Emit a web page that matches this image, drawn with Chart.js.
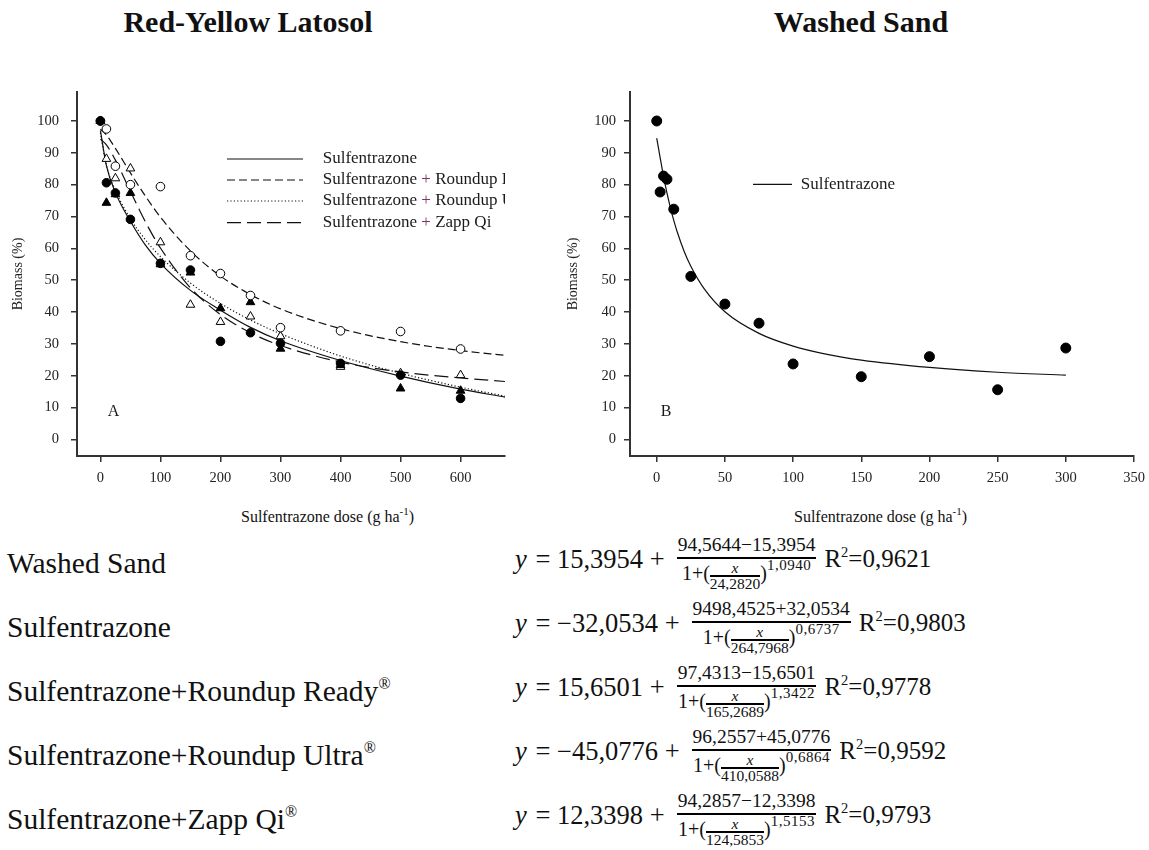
<!DOCTYPE html>
<html>
<head>
<meta charset="utf-8">
<script src="https://cdn.jsdelivr.net/npm/chart.js@4.4.0/dist/chart.umd.min.js"></script>
<style>
  body { margin:0; width:1149px; height:850px; background:#fff; position:relative; overflow:hidden;
         font-family:'Liberation Serif','Times New Roman',serif; color:#111; }
  .abs { position:absolute; white-space:nowrap; }
  .ptitle { font-weight:bold; font-size:30px; line-height:34px; top:5px; transform:translateX(-50%); }
  .xtitle { font-size:16px; line-height:18px; }
  .xtitle .sp { font-size:11px; position:relative; top:-7px; }
  .lab { font-size:29.5px; line-height:34px; left:7px; }
  .lab .reg { font-size:16px; position:relative; top:-12px; }
  .eq { position:absolute; left:515px; height:50px; display:flex; align-items:center; white-space:nowrap; }
  .lhs { font-size:26.5px; }
  .lhs i { margin-right:2px; }
  .frac { display:inline-flex; flex-direction:column; align-items:center; margin:0 8px 0 12px; }
  .num { font-size:19.5px; line-height:24px; height:24px; border-bottom:2px solid #000; padding:0 1px; }
  .den { font-size:20px; line-height:24px; height:24px; display:flex; align-items:center; padding-top:2px; }
  .ifrac { display:inline-flex; flex-direction:column; align-items:center; font-size:15.5px; line-height:14px; margin-top:5px; }
  .ix { font-style:italic; border-bottom:2px solid #000; width:100%; text-align:center; }
  .exp { font-size:15px; position:relative; top:-8px; letter-spacing:0.5px; }
  .r2 { font-size:25px; }
  .r2 .s2 { font-size:14.5px; position:relative; top:-10px; }
  .chartbox { position:absolute; }
</style>
</head>
<body>

<div class="abs ptitle" style="left:248px">Red-Yellow Latosol</div>
<div class="abs ptitle" style="left:861px">Washed Sand</div>

<div class="chartbox" style="left:0px;top:84px;width:512px;height:410px"><canvas id="cA" width="512" height="410"></canvas></div>
<div class="chartbox" style="left:560px;top:84px;width:589px;height:410px"><canvas id="cB" width="589" height="410"></canvas></div>

<div class="abs xtitle" style="left:241px;top:508px">Sulfentrazone dose (g ha<span class="sp">-1</span>)</div>
<div class="abs xtitle" style="left:794px;top:508px">Sulfentrazone dose (g ha<span class="sp">-1</span>)</div>

<div id="eqs"></div>

<script>
// ---------- Panel A: Red-Yellow Latosol (observed points) ----------
const dosesA = [0, 10, 25, 50, 100, 150, 200, 250, 300, 400, 500, 600];
const sulfA   = [100, 80.6, 77.4, 69.1, 55.3, 53.2, 30.8, 33.5, 30.2, 23.9, 20.2, 12.9];   // filled circles
const rReadyA = [100, 97.5, 85.8, 80.0, 79.4, 57.7, 52.1, 45.2, 35.1, 34.1, 33.9, 28.4];   // open circles
const rUltraA = [100, 74.3, 77.0, 77.4, 55.0, 52.4, 41.2, 43.1, 28.5, 23.4, 16.0, 15.3];   // filled triangles
const zappA   = [100, 88.1, 82.0, 85.1, 61.9, 42.3, 36.9, 38.6, 32.4, 22.8, 20.8, 20.2];   // open triangles

// fitted curves
const curveXA      = [0, 10, 25, 50, 75, 100, 150, 200, 250, 300, 400, 500, 600, 674];
const curveSulfA   = [97, 86, 77.5, 68.5, 61, 55.3, 46.8, 40.6, 35.2, 31, 24.8, 19.9, 15.8, 13.3];
const curveReadyA  = [97.4, 95.6, 91.4, 83.7, 76.4, 69.8, 59.2, 51.3, 45.5, 41.0, 34.8, 30.7, 27.9, 26.4];
const curveUltraA  = [96.3, 86.0, 78.2, 69.3, 62.7, 57.4, 49.1, 42.7, 37.5, 33.2, 26.2, 20.8, 16.4, 13.6];
const curveZappA   = [94.3, 92.5, 87.7, 77.9, 68.3, 60.1, 47.6, 39.2, 33.5, 29.5, 24.3, 21.2, 19.3, 18.2];

const legendA = ['Sulfentrazone', 'Sulfentrazone + Roundup Ready', 'Sulfentrazone + Roundup Ultra', 'Sulfentrazone + Zapp Qi'];

// ---------- Panel B: Washed Sand ----------
const dosesB = [0, 2.5, 5, 7.5, 12.5, 25, 50, 75, 100, 150, 200, 250, 300];
const sulfB  = [100, 77.7, 82.7, 81.7, 72.3, 51.2, 42.5, 36.5, 23.7, 19.7, 26.0, 15.6, 28.7];
const curveXB = [0, 2.5, 5, 7.5, 10, 12.5, 15, 20, 25, 35, 50, 75, 100, 125, 150, 200, 250, 300];
const curveYB = [94.6, 88.5, 82.6, 77.4, 72.8, 68.8, 65.2, 59.2, 54.4, 47.2, 40.1, 33.3, 29.3, 26.7, 24.9, 22.6, 21.1, 20.2];
const legendB = ['Sulfentrazone'];

// axis tick settings
const xTicksA = {min: -39, max: 674, step: 100};
const xTicksB = {min: -19.6, max: 350, step: 50};
const yTicks  = {min: -5.2, max: 109.1, step: 10};

// ---------- equations ----------
const eqLabels = ['Washed Sand', 'Sulfentrazone', 'Sulfentrazone+Roundup Ready', 'Sulfentrazone+Roundup Ultra', 'Sulfentrazone+Zapp Qi'];
const eqReg    = [false, false, true, true, true];
const eqConst  = ['15,3954', '−32,0534', '15,6501', '−45,0776', '12,3398'];
const eqNum    = ['94,5644−15,3954', '9498,4525+32,0534', '97,4313−15,6501', '96,2557+45,0776', '94,2857−12,3398'];
const eqScale  = ['24,2820', '264,7968', '165,2689', '410,0588', '124,5853'];
const eqExp    = ['1,0940', '0,6737', '1,3422', '0,6864', '1,5153'];
const eqR2     = ['0,9621', '0,9803', '0,9778', '0,9592', '0,9793'];

// ---------- build ----------
const FONT = "'Liberation Serif','Times New Roman',serif";
Chart.defaults.font.family = FONT;
Chart.defaults.color = '#222';

const pts = (xs, ys) => xs.map((x, i) => ({x, y: ys[i]}));

function axis(cfg, tickPad, widthFix, heightFix, title) {
  return {
    type: 'linear', min: cfg.min, max: cfg.max,
    ticks: {stepSize: cfg.step, includeBounds: false, padding: tickPad, font: {size: 14.5}, color: '#222', maxRotation: 0, autoSkip: false},
    grid: {display: true, drawOnChartArea: false, drawTicks: true, tickLength: 6, color: '#333', lineWidth: 1.5},
    border: {display: true, color: '#333', width: 2},
    title: title || {display: false},
    afterFit(s) {
      s.paddingTop = 0; s.paddingBottom = 0; s.paddingLeft = 0; s.paddingRight = 0;
      if (widthFix) s.width = widthFix;
      if (heightFix) s.height = heightFix;
    }
  };
}

function curve(xs, ys, dash) {
  return {data: pts(xs, ys), showLine: true, pointRadius: 0, borderColor: '#111', borderWidth: 1.2,
          borderDash: dash, cubicInterpolationMode: 'monotone', fill: false};
}
function marks(xs, ys, style, filled, r) {
  return {data: pts(xs, ys), showLine: false, pointStyle: style, pointRadius: r,
          pointBackgroundColor: filled ? '#000' : '#fff', pointBorderColor: '#000', pointBorderWidth: 1};
}

function legendPlugin(items, panelLetter, letterPos) {
  return {
    id: 'customLegend',
    afterDatasetsDraw(chart) {
      const {ctx, chartArea} = chart;
      ctx.save();
      ctx.beginPath();
      ctx.rect(chartArea.left, chartArea.top, chartArea.right - chartArea.left, chartArea.bottom - chartArea.top);
      ctx.clip();
      ctx.font = '17px ' + FONT;
      ctx.textBaseline = 'middle';
      items.forEach(it => {
        ctx.beginPath();
        ctx.setLineDash(it.dash);
        ctx.strokeStyle = '#111';
        ctx.lineWidth = 1.2;
        ctx.moveTo(it.x1, it.y); ctx.lineTo(it.x2, it.y); ctx.stroke();
        ctx.setLineDash([]);
        let x = it.tx;
        const parts = it.text.split('+');
        parts.forEach((p, k) => {
          if (k > 0) {
            ctx.fillStyle = '#7d3466';
            ctx.fillText('+', x, it.y);
            x += ctx.measureText('+').width;
          }
          ctx.fillStyle = '#1a1a1a';
          ctx.fillText(p, x, it.y);
          x += ctx.measureText(p).width;
        });
      });
      ctx.font = '16px ' + FONT;
      ctx.fillStyle = '#1a1a1a';
      ctx.textAlign = 'center';
      ctx.fillText(panelLetter, letterPos[0], letterPos[1]);
      ctx.restore();
    }
  };
}

const dashes = [[], [8, 4], [1.2, 2.2], [14, 6]];

new Chart(document.getElementById('cA'), {
  type: 'scatter',
  data: {datasets: [
    marks(dosesA, sulfA, 'circle', true, 4.3),
    marks(dosesA, rReadyA, 'circle', false, 4.3),
    marks(dosesA, rUltraA, 'triangle', true, 5),
    marks(dosesA, zappA, 'triangle', false, 5),
    curve(curveXA, curveSulfA, dashes[0]),
    curve(curveXA, curveReadyA, dashes[1]),
    curve(curveXA, curveUltraA, dashes[2]),
    curve(curveXA, curveZappA, dashes[3])
  ]},
  options: {
    responsive: false, animation: false, events: [],
    layout: {padding: {left: 0, top: 8, right: 7, bottom: 8}},
    plugins: {legend: {display: false}, tooltip: {enabled: false}},
    scales: {
      x: axis(xTicksA, 7, null, 30),
      y: axis(yTicks, 12, 77, null, {display: true, text: 'Biomass (%)', font: {size: 14}, color: '#222', padding: {top: 10, bottom: 0}})
    }
  },
  plugins: [legendPlugin(legendA.map((t, i) => ({text: t, dash: dashes[i], x1: 227, x2: 303, y: [75, 96, 117, 138.7][i], tx: 322.7})), 'A', [113.5, 327.5])]
});

new Chart(document.getElementById('cB'), {
  type: 'scatter',
  data: {datasets: [
    marks(dosesB, sulfB, 'circle', true, 5),
    curve(curveXB, curveYB, [])
  ]},
  options: {
    responsive: false, animation: false, events: [],
    layout: {padding: {left: 0, top: 8, right: 15, bottom: 8}},
    plugins: {legend: {display: false}, tooltip: {enabled: false}},
    scales: {
      x: axis(xTicksB, 7, null, 30),
      y: axis(yTicks, 8, 70, null, {display: true, text: 'Biomass (%)', font: {size: 14}, color: '#222', padding: {top: 5, bottom: 0}})
    }
  },
  plugins: [legendPlugin([{text: legendB[0], dash: [], x1: 193, x2: 232, y: 100.3, tx: 240.7}], 'B', [106, 328])]
});

// equations + labels
const eqBox = document.getElementById('eqs');
let html = '';
eqLabels.forEach((lab, i) => {
  const c = 557 + 64 * i;
  html += `<div class="abs lab" style="top:${c - 11}px">${lab}${eqReg[i] ? '<span class="reg">®</span>' : ''}</div>`;
  html += `<div class="eq" style="top:${c - 23}px">
    <span class="lhs"><i>y</i> = ${eqConst[i]} +</span>
    <span class="frac"><span class="num">${eqNum[i]}</span>
      <span class="den">1+(<span class="ifrac"><span class="ix">x</span><span>${eqScale[i]}</span></span>)<span class="exp">${eqExp[i]}</span></span>
    </span>
    <span class="r2">R<span class="s2">2</span>=${eqR2[i]}</span>
  </div>`;
});
eqBox.innerHTML = html;
</script>
</body>
</html>
